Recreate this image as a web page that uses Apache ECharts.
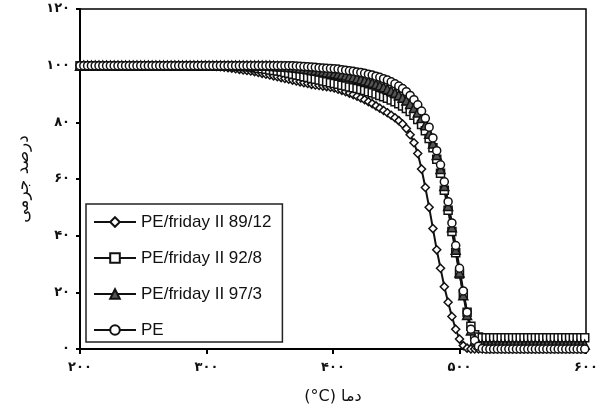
<!DOCTYPE html>
<html>
<head>
<meta charset="utf-8">
<script src="https://cdn.jsdelivr.net/npm/echarts@6/dist/echarts.min.js"></script>
<style>html,body{margin:0;padding:0;background:#fff}#c{width:601px;height:410px}</style>
</head>
<body>
<div id="c"></div>
<script>
// Temperature samples (°C)
var temps = [
200,203,206,209,212,215,218,221,224,227,230,233,236,239,242,245,248,251,254,257,
260,263,266,269,272,275,278,281,284,287,290,293,296,299,302,305,308,311,314,317,
320,323,326,329,332,335,338,341,344,347,350,353,356,359,362,365,368,371,374,377,
380,383,386,389,392,395,398,401,404,407,410,413,416,419,422,425,428,431,434,437,
440,443,446,449,452,455,458,461,464,467,470,473,476,479,482,485,488,491,494,497,
500,503,506,509,512,515,518,521,524,527,530,533,536,539,542,545,548,551,554,557,
560,563,566,569,572,575,578,581,584,587,590,593,596,599
];
var seriesNames = ['PE/friday II 89/12','PE/friday II 92/8','PE/friday II 97/3','PE'];
// PE/friday II 89/12
var mass8912 = [
100,100,100,100,100,100,100,100,100,100,
100,100,100,100,100,100,100,100,100,100,
100,100,100,100,100,100,100,100,100,100,
100,100,100,100,
99.9,99.8,99.7,99.6,99.5,99.3,99.1,98.9,98.7,98.5,
98.3,98.1,97.9,97.6,97.3,97.0,96.7,96.4,96.1,95.8,
95.5,95.2,94.9,94.6,94.3,94.0,93.7,93.4,
93.2,93.0,92.8,92.6,92.4,
92.1,91.7,91.3,90.8,90.3,89.8,89.2,88.6,88.0,87.3,86.6,85.8,85.0,
84.2,83.4,82.5,81.6,80.6,79.4,77.8,75.6,72.8,69.0,
63.5,57,50,42.5,35,28.5,22,16.5,11.5,7,3.5,1.2,0.3,
0,0,0,0,0,0,0,0,0,0,
0,0,0,0,0,0,0,0,0,0,
0,0,0,0,0,0,0,0,0,0,
0
];
// PE/friday II 92/8
var mass928 = [
100,100,100,100,100,100,100,100,100,100,
100,100,100,100,100,100,100,100,100,100,
100,100,100,100,100,100,100,100,100,100,
100,100,100,100,100,100,100,100,100,100,
100,
99.9,99.8,99.7,99.6,99.5,99.3,99.1,98.9,98.7,98.5,
98.3,98.1,97.9,97.6,97.3,97.0,96.7,96.4,96.1,95.8,
95.5,95.2,94.9,94.6,94.3,94.0,93.7,93.4,93.1,92.8,
92.5,92.2,91.9,91.6,91.2,90.8,90.4,90.0,89.5,89.0,
88.5,87.9,87.3,86.6,85.8,84.9,83.8,82.5,81,79.2,
77,74.3,71,67,62,56,49,41.5,34,26.5,
19.5,13,8,5,4.2,
4,4,4,4,4,4,4,4,4,4,
4,4,4,4,4,4,4,4,4,4,
4,4,4,4,4,4,4,4
];
// PE/friday II 97/3
var mass973 = [
100,100,100,100,100,100,100,100,100,100,
100,100,100,100,100,100,100,100,100,100,
100,100,100,100,100,100,100,100,100,100,
100,100,100,100,100,100,100,100,100,100,
100,100,100,100,100,100,100,100,100,100,
100,
99.9,99.8,99.7,99.6,99.5,99.4,99.3,99.1,98.9,98.7,
98.5,98.3,98.1,97.9,97.7,97.5,97.3,97.1,96.8,96.5,
96.2,95.9,95.6,95.2,94.8,94.4,94.0,93.5,93.0,92.4,
91.8,91.1,90.4,89.6,88.7,87.7,86.5,85.1,83.5,81.5,
79,76,72.5,68.5,63.5,57.5,50.5,43,35,27,
19,12,6.5,3,1.8,
1.5,1.5,1.5,1.5,1.5,1.5,1.5,1.5,1.5,1.5,
1.5,1.5,1.5,1.5,1.5,1.5,1.5,1.5,1.5,1.5,
1.5,1.5,1.5,1.5,1.5,1.5,1.5,1.5
];
// PE
var massPE = [
100,100,100,100,100,100,100,100,100,100,
100,100,100,100,100,100,100,100,100,100,
100,100,100,100,100,100,100,100,100,100,
100,100,100,100,100,100,100,100,100,100,
100,100,100,100,100,100,100,100,100,100,
100,100,100,100,100,100,100,
99.9,99.8,99.7,99.6,99.5,99.4,99.3,99.2,99.1,99.0,
98.9,98.8,98.6,98.4,98.2,98.0,97.8,97.6,97.3,97.0,
96.7,96.3,95.9,95.4,94.9,94.3,93.6,92.8,91.9,90.8,
89.5,88.0,86.2,84.0,81.4,78.3,74.5,70,65,59,
52,44.5,36.5,28.5,20.5,13,7,3,1,0.2,
0,0,0,0,0,0,0,0,0,0,
0,0,0,0,0,0,0,0,0,0,
0,0,0,0,0,0,0
];
var xTickValues = [200,300,400,500,600];
var xTickLabels = ['۲۰۰','۳۰۰','۴۰۰','۵۰۰','۶۰۰'];
var yTickValues = [0,20,40,60,80,100,120];
var yTickLabels = ['۰','۲۰','۴۰','۶۰','۸۰','۱۰۰','۱۲۰'];
var xName = '(°C) دما';
var yName = 'درصد جرمی';

var allMass = [mass8912, mass928, mass973, massPE];
allMass.forEach(function(a, k){
  if (a.length !== temps.length) throw new Error('length mismatch ' + k + ': ' + a.length);
});
function pairs(vals){ return temps.map(function(t,i){ return [t, vals[i]]; }); }

var symbols = [
  {symbol:'diamond', size:8, fill:'#fff'},
  {symbol:'rect', size:8, fill:'#fff'},
  {symbol:'triangle', size:9, fill:'#555'},
  {symbol:'circle', size:8, fill:'#fff'}
];

var chart = echarts.init(document.getElementById('c'), null, {renderer:'canvas'});
chart.setOption({
  animation:false,
  backgroundColor:'#fff',
  grid:{left:80, right:15, top:9, bottom:60, show:true, borderColor:'#000', borderWidth:1.5},
  legend:{
    orient:'vertical', left:86, top:204,
    backgroundColor:'#fff', borderColor:'#222', borderWidth:1.5, borderRadius:0,
    padding:[9,11,3,7],
    itemWidth:42, itemHeight:12, itemGap:18,
    textStyle:{fontFamily:'Liberation Sans, Arial, sans-serif', fontSize:17, color:'#111', lineHeight:18},
    data:seriesNames
  },
  xAxis:{
    type:'value', min:200, max:600, interval:100,
    name:xName, nameLocation:'middle', nameGap:40,
    nameTextStyle:{fontFamily:'DejaVu Sans', fontSize:16, color:'#111'},
    axisLine:{show:true, lineStyle:{color:'#000', width:2}},
    axisTick:{show:true, inside:false, length:5, lineStyle:{color:'#000', width:2}},
    axisLabel:{margin:12, color:'#111', fontFamily:'DejaVu Sans', fontSize:13, fontWeight:'bold',
      formatter:function(v){ var i = xTickValues.indexOf(v); return i>=0 ? xTickLabels[i] : ''; }},
    splitLine:{show:false}
  },
  yAxis:{
    type:'value', min:0, max:120, interval:20,
    name:yName, nameLocation:'middle', nameGap:48, nameRotate:90,
    nameTextStyle:{fontFamily:'DejaVu Sans', fontSize:17, color:'#111'},
    axisLine:{show:true, lineStyle:{color:'#000', width:2}},
    axisTick:{show:true, inside:false, length:4, lineStyle:{color:'#000', width:2}},
    axisLabel:{margin:10, color:'#111', fontFamily:'DejaVu Sans', fontSize:13, fontWeight:'bold',
      formatter:function(v){ var i = yTickValues.indexOf(v); return i>=0 ? yTickLabels[i] : ''; }},
    splitLine:{show:false}
  },
  series: seriesNames.map(function(n, k){
    return {
      name:n, type:'line', data:pairs(allMass[k]),
      symbol:symbols[k].symbol, symbolSize:symbols[k].size, showAllSymbol:true,
      lineStyle:{color:'#111', width:2},
      itemStyle:{color:symbols[k].fill, borderColor:'#111', borderWidth:1.5},
      emphasis:{disabled:true},
      clip:false
    };
  })
});
</script>
</body>
</html>
